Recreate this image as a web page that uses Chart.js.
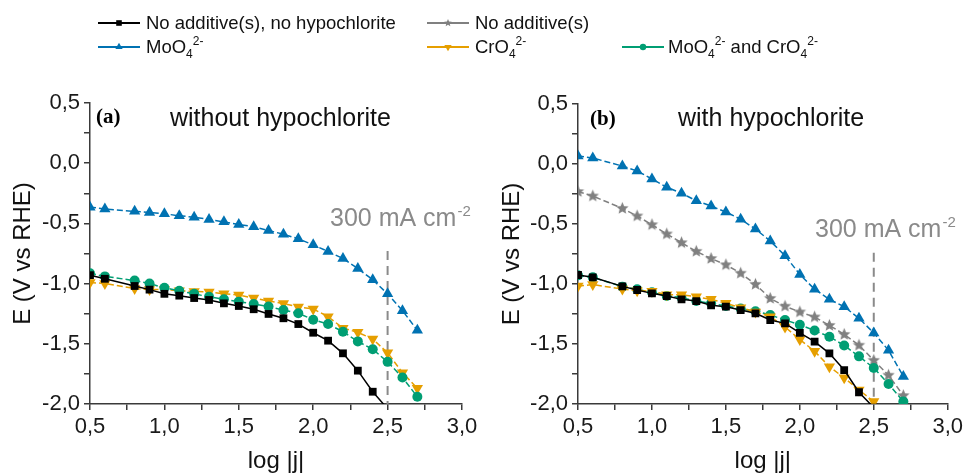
<!DOCTYPE html>
<html>
<head>
<meta charset="utf-8">
<script src="https://cdn.jsdelivr.net/npm/chart.js@4.4.0/dist/chart.umd.min.js"></script>
<style>
body { margin: 0; background: #fff; width: 967px; height: 476px; overflow: hidden; position: relative;
       font-family: "Liberation Sans", Arial, sans-serif; }
#cA { position: absolute; left: 0; top: 0; }
#cB { position: absolute; left: 490px; top: 0; }
.leg { position: absolute; font-size: 18.5px; line-height: 0; white-space: nowrap; color: #111; }
.leg .sb { position: relative; top: 5px; font-size: 12px; }
.leg .sp { position: relative; top: -8px; font-size: 12px; }
.icon { position: absolute; }
</style>
</head>
<body>
<canvas id="cA" width="490" height="476"></canvas>
<canvas id="cB" width="477" height="476"></canvas>
<div id="legend"></div>
<script>
// x positions (log |j|), shared by every curve
const logJ = [0.5, 0.6, 0.8, 0.9, 1.0, 1.1, 1.2, 1.3, 1.4, 1.5, 1.6, 1.7, 1.8, 1.9, 2.0, 2.1, 2.2, 2.3, 2.4, 2.5, 2.6, 2.7];

// (a) without hypochlorite
const aNone = [-0.93, -0.96, -1.02, -1.05, -1.085, -1.10, -1.12, -1.136, -1.164, -1.186, -1.213, -1.252, -1.288, -1.336, -1.408, -1.474, -1.579, -1.723, -1.898, -2.04, null, null];
const aMoO4 = [-0.365, -0.38, -0.40, -0.41, -0.42, -0.437, -0.448, -0.467, -0.487, -0.509, -0.528, -0.559, -0.59, -0.628, -0.678, -0.733, -0.792, -0.875, -0.968, -1.085, -1.225, -1.388];
const aCrO4 = [-0.99, -1.00, -1.04, -1.05, -1.05, -1.06, -1.065, -1.07, -1.085, -1.095, -1.12, -1.145, -1.165, -1.195, -1.21, -1.275, -1.37, -1.405, -1.46, -1.575, -1.74, -1.87];
const aBoth = [-0.915, -0.94, -0.975, -1.0, -1.035, -1.06, -1.085, -1.11, -1.13, -1.15, -1.17, -1.19, -1.22, -1.247, -1.30, -1.336, -1.40, -1.48, -1.546, -1.65, -1.78, -1.94];

// (b) with hypochlorite
const bNone = [-0.925, -0.944, -1.02, -1.05, -1.078, -1.10, -1.128, -1.142, -1.178, -1.189, -1.217, -1.244, -1.30, -1.328, -1.408, -1.48, -1.578, -1.717, -1.902, -2.03, null, null];
const bAdd = [-0.23, -0.267, -0.37, -0.433, -0.506, -0.583, -0.656, -0.728, -0.788, -0.84, -0.91, -1.003, -1.12, -1.185, -1.233, -1.275, -1.345, -1.42, -1.51, -1.636, -1.76, -1.93];
const bMoO4 = [0.067, 0.05, -0.017, -0.058, -0.125, -0.194, -0.244, -0.306, -0.35, -0.40, -0.461, -0.542, -0.642, -0.764, -0.92, -1.044, -1.128, -1.189, -1.286, -1.408, -1.553, -1.77];
const bCrO4 = [-1.017, -1.005, -1.042, -1.056, -1.061, -1.089, -1.089, -1.106, -1.128, -1.161, -1.197, -1.233, -1.272, -1.358, -1.463, -1.561, -1.689, -1.782, -1.883, -1.98, null, null];
const bBoth = [-0.928, -0.944, -1.022, -1.044, -1.069, -1.10, -1.114, -1.142, -1.161, -1.183, -1.205, -1.227, -1.258, -1.30, -1.34, -1.388, -1.44, -1.512, -1.603, -1.70, -1.833, -1.98];

// 300 mA cm-2 marker line
const refX = 2.5;
const refA = [-0.73, -2.0];
const refB = [-0.74, -2.0];

const xTicks = [0.5, 3.0];
const yTicks = [-2.0, 0.5];

const COL = { none: '#000000', add: '#808080', mo: '#0072B2', cr: '#E69F00', both: '#009E73' };

function starCanvas(r, color) {
    const s = Math.ceil(r * 2 + 2);
    const c = document.createElement('canvas');
    c.width = s; c.height = s;
    const g = c.getContext('2d');
    g.fillStyle = color;
    g.beginPath();
    for (let i = 0; i < 10; i++) {
        const rr = i % 2 ? r * 0.45 : r;
        const a = -Math.PI / 2 + i * Math.PI / 5;
        g.lineTo(s / 2 + rr * Math.cos(a), s / 2 + rr * Math.sin(a));
    }
    g.closePath();
    g.fill();
    return c;
}

const STYLE = {
    none: { color: COL.none, pointStyle: 'rect', r: 5.5, rot: 0, dash: [] },
    add:  { color: COL.add, pointStyle: starCanvas(6.5, COL.add), r: 6, rot: 0, dash: [6, 3] },
    mo:   { color: COL.mo, pointStyle: 'triangle', r: 6.5, rot: 0, dash: [6, 3] },
    cr:   { color: COL.cr, pointStyle: 'triangle', r: 6.5, rot: 180, dash: [6, 3] },
    both: { color: COL.both, pointStyle: 'circle', r: 5, rot: 0, dash: [6, 3] }
};

function series(key, vals) {
    const st = STYLE[key];
    return {
        data: logJ.map((x, i) => ({ x, y: vals[i] })).filter(p => p.y !== null),
        borderColor: st.color,
        backgroundColor: st.color,
        borderWidth: 1.5,
        borderDash: st.dash,
        pointStyle: st.pointStyle,
        pointRadius: st.r,
        pointRotation: st.rot,
        pointBackgroundColor: st.color,
        pointBorderColor: st.color,
        pointBorderWidth: 0,
        tension: 0
    };
}

function refLine(vals) {
    return {
        data: vals.map(y => ({ x: refX, y })),
        borderColor: '#8a8a8a',
        borderWidth: 2,
        borderDash: [9, 6],
        pointRadius: 0
    };
}

const panelText = {
    id: 'panelText',
    afterDraw(chart, args, o) {
        const ctx = chart.ctx;
        ctx.save();
        ctx.textBaseline = 'alphabetic';
        ctx.textAlign = 'left';
        ctx.fillStyle = '#000';
        ctx.font = 'bold 21px "Liberation Serif", serif';
        ctx.fillText(o.letter, o.letterX, o.letterY);
        ctx.font = '25px "Liberation Sans", Arial, sans-serif';
        ctx.fillStyle = '#111';
        ctx.fillText(o.title, o.titleX, o.titleY);
        ctx.fillStyle = '#8a8a8a';
        ctx.fillText('300 mA cm', o.noteX, o.noteY);
        const w = ctx.measureText('300 mA cm').width;
        ctx.font = '15px "Liberation Sans", Arial, sans-serif';
        ctx.fillText('-2', o.noteX + w + 1, o.noteY - 10);
        ctx.restore();
    }
};

function fmt(v) {
    return Math.abs(v * 2 - Math.round(v * 2)) < 1e-9 ? v.toFixed(1).replace('.', ',') : '';
}

function axisBase() {
    return {
        type: 'linear',
        border: { color: '#3a3a3a', width: 1.5 },
        grid: { drawOnChartArea: false, drawTicks: true, tickLength: 6, color: '#3a3a3a', lineWidth: 1.5 },
        ticks: { stepSize: 0.25, autoSkip: false, maxRotation: 0, padding: 4, color: '#1a1a1a',
                 font: { family: '"Liberation Sans", Arial, sans-serif', size: 22 }, callback: v => fmt(v) }
    };
}

function makePanel(id, datasets, axisW, padTop, padRight, yTitlePad, text) {
    const x = axisBase();
    x.min = xTicks[0]; x.max = xTicks[1];
    x.afterFit = s => { s.height = 72; };
    x.title = { display: true, text: 'log |j|', color: '#111', padding: { top: 0, bottom: 0 },
                font: { family: '"Liberation Sans", Arial, sans-serif', size: 24 } };
    const y = axisBase();
    y.min = yTicks[0]; y.max = yTicks[1];
    y.afterFit = s => { s.width = axisW; };
    y.title = { display: true, text: 'E (V vs RHE)', color: '#111', padding: { top: yTitlePad, bottom: 0 },
                font: { family: '"Liberation Sans", Arial, sans-serif', size: 24 } };

    return new Chart(document.getElementById(id).getContext('2d'), {
        type: 'line',
        data: { datasets },
        options: {
            responsive: false,
            devicePixelRatio: 1,
            animation: false,
            events: [],
            layout: { padding: { top: padTop, right: padRight, left: 0, bottom: 0 } },
            scales: { x, y },
            plugins: { legend: { display: false }, tooltip: { enabled: false }, panelText: text }
        },
        plugins: [panelText]
    });
}

makePanel('cA', [
    series('none', aNone),
    series('both', aBoth),
    series('cr', aCrO4),
    series('mo', aMoO4),
    refLine(refA)
], 90, 103, 28, 9, {
    letter: '(a)', letterX: 96, letterY: 123,
    title: 'without hypochlorite', titleX: 170, titleY: 126,
    noteX: 330, noteY: 226
});

makePanel('cB', [
    series('none', bNone),
    series('cr', bCrO4),
    series('both', bBoth),
    series('add', bAdd),
    series('mo', bMoO4),
    refLine(refB)
], 88, 104, 17, 7.6, {
    letter: '(b)', letterX: 100, letterY: 125,
    title: 'with hypochlorite', titleX: 188, titleY: 126,
    noteX: 325, noteY: 237
});

// legend
const legendItems = [
    { key: 'none', html: 'No additive(s), no hypochlorite', x: 98, row: 0 },
    { key: 'add', html: 'No additive(s)', x: 427, row: 0 },
    { key: 'mo', html: 'MoO<span class="sb">4</span><span class="sp">2-</span>', x: 98, row: 1 },
    { key: 'cr', html: 'CrO<span class="sb">4</span><span class="sp">2-</span>', x: 427, row: 1 },
    { key: 'both', html: 'MoO<span class="sb">4</span><span class="sp">2-</span> and CrO<span class="sb">4</span><span class="sp">2-</span>', x: 622, row: 1 }
];
const rowCenter = [22.7, 46.7];
const rowBase = [29.3, 53.3];

function legendMarker(g, key, cx, cy) {
    const st = STYLE[key];
    g.fillStyle = st.color;
    g.beginPath();
    if (key === 'none') {
        g.rect(cx - 2.8, cy - 2.8, 5.6, 5.6);
    } else if (key === 'both') {
        g.arc(cx, cy, 3.2, 0, Math.PI * 2);
    } else if (key === 'mo' || key === 'cr') {
        const r = 4.2, s = key === 'cr' ? -1 : 1;
        g.moveTo(cx, cy - s * r);
        g.lineTo(cx + r * 0.866, cy + s * r * 0.5);
        g.lineTo(cx - r * 0.866, cy + s * r * 0.5);
        g.closePath();
    } else {
        const r = 4;
        for (let i = 0; i < 10; i++) {
            const rr = i % 2 ? r * 0.45 : r;
            const a = -Math.PI / 2 + i * Math.PI / 5;
            g.lineTo(cx + rr * Math.cos(a), cy + rr * Math.sin(a));
        }
        g.closePath();
    }
    g.fill();
}

const legend = document.getElementById('legend');
legendItems.forEach(it => {
    const c = document.createElement('canvas');
    c.width = 44; c.height = 14;
    c.className = 'icon';
    c.style.left = it.x + 'px';
    c.style.top = (rowCenter[it.row] - 7) + 'px';
    const g = c.getContext('2d');
    g.strokeStyle = STYLE[it.key].color;
    g.lineWidth = 2;
    g.beginPath(); g.moveTo(0, 7); g.lineTo(42, 7); g.stroke();
    legendMarker(g, it.key, 21, 7);
    legend.appendChild(c);

    const t = document.createElement('div');
    t.className = 'leg';
    t.style.left = (it.x + (it.key === 'both' ? 46 : 48)) + 'px';
    t.style.top = (rowBase[it.row] - 6.4) + 'px';
    t.innerHTML = it.html;
    legend.appendChild(t);
});
</script>
</body>
</html>
